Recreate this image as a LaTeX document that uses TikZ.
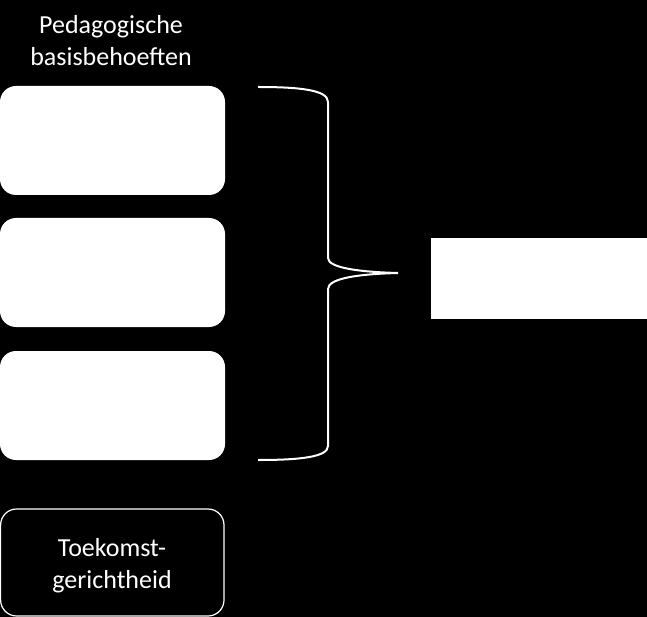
\documentclass[tikz,border=0pt]{standalone}
\usepackage{fontspec}
\setmainfont{Carlito}
\begin{document}
\begin{tikzpicture}[x=1pt,y=-1pt,
  fillbox/.style={fill=white,rounded corners=16pt},
  outbox/.style={draw=white,line width=1.2pt,rounded corners=16pt},
  lbl/.style={text=white,font=\fontsize{26}{32}\selectfont,align=center}]
\fill[black] (0,0) rectangle (647,617);
\useasboundingbox (0,0) rectangle (647,617);
\node[lbl] (title) at (111,41) {Pedagogische\\basisbehoeften};
\fill[fillbox] (0,86) rectangle (225,195);
\fill[fillbox] (0,218) rectangle (225,327);
\fill[fillbox] (0,351) rectangle (225,460);
\draw[outbox] (0.6,509) rectangle (224,616);
\node[lbl] (toek) at (112,566) {Toekomst-\\gerichtheid};
\fill[white] (431,238) rectangle (647,319);
\draw[white,line width=2pt]
  (258,87) .. controls (300,87) and (328,90) .. (328,102)
  -- (328,258) .. controls (328,268) and (360,272) .. (398,273)
  .. controls (360,274) and (328,278) .. (328,289)
  -- (328,446) .. controls (328,457) and (300,460) .. (258,460);
\end{tikzpicture}
\end{document}
